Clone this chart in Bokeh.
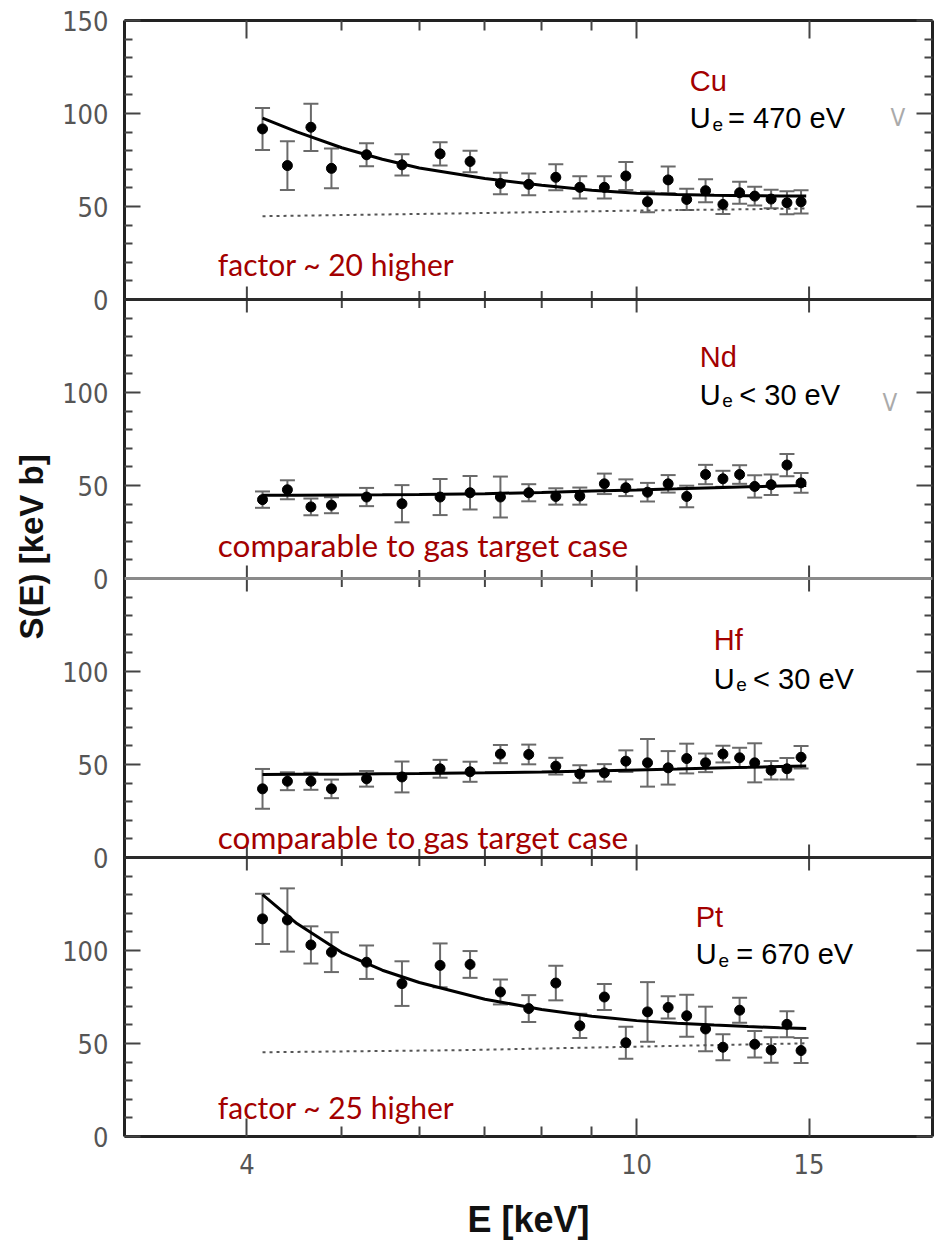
import math
from bokeh.plotting import figure
from bokeh.models import (Range1d, FixedTicker, LinearAxis, LogAxis, Span, Label, Title,
                          Whisker, TeeHead, ColumnDataSource, PrintfTickFormatter)
from bokeh.embed import file_html
from bokeh.resources import INLINE

# ---------------- data ----------------
panels = ["Cu", "Nd", "Hf", "Pt"]
screening = ["= 470 eV", "< 30 eV", "< 30 eV", "= 670 eV"]
remarks = ["factor ~ 20 higher", "comparable to gas target case",
           "comparable to gas target case", "factor ~ 25 higher"]

energy_keV = [4.15, 4.40, 4.65, 4.88, 5.30, 5.76, 6.30, 6.76, 7.26, 7.76, 8.27, 8.75,
              9.27, 9.75, 10.26, 10.77, 11.25, 11.76, 12.25, 12.74, 13.20, 13.72, 14.24, 14.72]

cu_S = [91.7, 72.0, 92.6, 70.5, 77.8, 72.4, 78.3, 74.2, 62.4, 61.9, 65.7, 60.3,
        60.3, 66.4, 52.5, 64.3, 53.8, 58.5, 51.1, 57.4, 55.6, 54.0, 52.0, 52.5]
cu_err = [11.3, 13.1, 12.7, 10.7, 6.2, 5.7, 6.2, 5.8, 5.8, 5.9, 7.0, 6.0,
          6.0, 7.5, 5.6, 7.2, 5.7, 6.2, 5.1, 5.9, 5.0, 5.0, 6.2, 6.2]

nd_S = [42.4, 47.7, 38.5, 39.4, 43.8, 40.2, 43.8, 46.1, 43.8, 46.1, 44.1, 44.3,
        50.9, 48.8, 46.4, 50.9, 44.1, 55.9, 53.6, 55.9, 49.5, 50.4, 61.0, 51.4]
nd_err = [4.4, 5.1, 4.5, 4.3, 4.9, 10.0, 9.7, 9.0, 11.0, 4.6, 4.4, 4.6,
          5.5, 4.5, 5.0, 4.7, 5.8, 5.2, 4.3, 5.0, 6.0, 5.5, 6.0, 5.3]

hf_S = [36.9, 41.0, 41.0, 36.9, 42.3, 43.3, 47.7, 46.1, 55.6, 55.4, 49.1, 44.9,
        45.5, 51.8, 50.9, 48.2, 53.2, 50.9, 55.6, 53.6, 50.9, 46.9, 47.7, 53.9]
hf_err = [10.7, 4.8, 4.6, 5.0, 4.2, 8.3, 4.8, 5.4, 4.9, 5.3, 4.5, 4.7,
          4.7, 5.8, 12.8, 9.0, 8.0, 5.0, 4.5, 5.4, 10.5, 5.0, 5.8, 6.0]

pt_S = [117.0, 116.4, 103.0, 99.1, 93.7, 82.2, 92.0, 92.5, 77.7, 68.8, 82.5, 59.5,
        75.0, 50.4, 67.0, 69.4, 64.9, 57.8, 48.0, 67.9, 49.6, 46.5, 60.3, 46.2]
pt_err = [13.5, 17.0, 10.0, 10.7, 9.0, 12.0, 11.8, 7.2, 6.7, 7.2, 9.3, 6.5,
          7.0, 8.6, 16.0, 6.0, 11.3, 12.0, 7.0, 6.7, 7.1, 6.9, 7.0, 6.7]

fit_E = [4.15, 4.5, 5.0, 5.5, 6.0, 7.0, 8.0, 9.0, 10.0, 11.0, 12.0, 13.0, 14.0, 14.9]
cu_fit = [97.5, 90.1, 81.6, 75.4, 70.7, 65.0, 61.4, 58.8, 57.1, 56.4, 56.0, 55.8, 55.7, 55.6]
nd_fit = [44.7, 44.8, 44.9, 45.0, 45.2, 45.6, 46.3, 47.0, 47.6, 48.2, 48.8, 49.3, 49.7, 50.0]
hf_fit = [44.6, 44.7, 44.8, 45.0, 45.1, 45.5, 46.0, 46.5, 47.1, 47.6, 48.1, 48.5, 48.9, 49.2]
pt_fit = [130.0, 114.5, 98.9, 89.4, 82.8, 73.8, 68.3, 64.7, 62.3, 60.9, 59.9, 59.1, 58.5, 58.1]

bare_E = [4.15, 6.6, 10.0, 14.9]
cu_bare = [44.8, 46.3, 47.8, 48.9]
pt_bare = [45.3, 46.4, 48.3, 50.1]

x_major_ticks = [4, 10, 15]
x_minor_ticks = [5, 6, 7, 8, 9]
y_panel_ticks = [0, 50, 100]
PANEL_MAX = 150

series_S = [cu_S, nd_S, hf_S, pt_S]
series_err = [cu_err, nd_err, hf_err, pt_err]
series_fit = [cu_fit, nd_fit, hf_fit, pt_fit]
series_bare = [cu_bare, None, None, pt_bare]

# ---------------- styles ----------------
RED = "#a30000"
NARROW = "Liberation Sans Narrow, DejaVu Sans Condensed, sans-serif"
ARIAL = "Liberation Sans"
REMARK_FONT = "Lato"
N = len(panels)

p = figure(x_axis_type="log", x_range=Range1d(3.0, 20.05), y_range=Range1d(0, PANEL_MAX * N),
           width=934, height=1252,
           min_border_left=124, min_border_right=2, min_border_top=20, min_border_bottom=116,
           output_backend="svg", toolbar_location=None)
p.grid.visible = False
p.outline_line_color = None
p.background_fill_color = "white"

# y ticks: repeated 0..150 scale for each panel
y_major = []
y_minor = []
y_over = {}
for k in range(N):
    base = PANEL_MAX * k
    for t in y_panel_ticks:
        y_major.append(base + t)
        y_over[base + t] = str(t)
    for t in range(10, PANEL_MAX, 10):
        if t % 50:
            y_minor.append(base + t)
y_major.append(PANEL_MAX * N)
y_over[PANEL_MAX * N] = str(PANEL_MAX)

def style_y(ax, labels):
    ax.ticker = FixedTicker(ticks=y_major, minor_ticks=y_minor)
    ax.axis_line_color = "#222222"
    ax.axis_line_width = 3
    ax.major_tick_in = 16
    ax.major_tick_out = 0
    ax.minor_tick_in = 8
    ax.minor_tick_out = 0
    ax.major_tick_line_color = "#444444"
    ax.minor_tick_line_color = "#444444"
    ax.major_tick_line_width = 2
    ax.minor_tick_line_width = 2
    if labels:
        ax.major_label_overrides = y_over
        ax.major_label_text_font = NARROW
        ax.major_label_text_font_size = "27px"
        ax.major_label_text_color = "#555555"
        ax.major_label_standoff = 16
    else:
        ax.major_label_overrides = {t: "" for t in y_major}
        ax.major_label_text_font_size = "0px"
        ax.major_label_standoff = 0

def style_x(ax, labels):
    ax.ticker = FixedTicker(ticks=x_major_ticks, minor_ticks=x_minor_ticks)
    ax.axis_line_color = "#222222"
    ax.axis_line_width = 3
    ax.major_tick_in = 18
    ax.major_tick_out = 0
    ax.minor_tick_in = 10
    ax.minor_tick_out = 0
    ax.major_tick_line_color = "#444444"
    ax.minor_tick_line_color = "#444444"
    ax.major_tick_line_width = 2
    ax.minor_tick_line_width = 2
    if labels:
        ax.formatter = PrintfTickFormatter(format="%d")
        ax.major_label_text_font = NARROW
        ax.major_label_text_font_size = "27px"
        ax.major_label_text_color = "#555555"
        ax.major_label_standoff = 17
    else:
        ax.major_label_overrides = {t: "" for t in x_major_ticks}
        ax.major_label_text_font_size = "0px"
        ax.major_label_standoff = 0

style_y(p.left[0], True)
style_x(p.below[0], True)
p.below[0].axis_label = "E [keV]"
p.below[0].axis_label_text_font = ARIAL
p.below[0].axis_label_text_font_style = "bold"
p.below[0].axis_label_text_font_size = "36px"
p.below[0].axis_label_text_color = "#111111"
p.below[0].axis_label_standoff = 22

right_ax = LinearAxis()
style_y(right_ax, False)
p.add_layout(right_ax, "right")
top_ax = LogAxis()
style_x(top_ax, False)
p.add_layout(top_ax, "above")

# y-axis title, starting above the lower panels like the original
p.add_layout(Title(text="S(E) [keV b]", align="left", offset=497, standoff=19,
                   text_font=ARIAL, text_font_style="bold", text_font_size="33px",
                   text_color="#111111"), "left")

# panel separators with crossing ticks
for k in range(1, N):
    col = "#8a8a8a" if k == 2 else "#2a2a2a"
    p.add_layout(Span(location=PANEL_MAX * k, dimension="width", line_color=col, line_width=3))
    p.scatter(x=x_major_ticks, y=[PANEL_MAX * k] * len(x_major_ticks), marker="dash",
              angle=math.pi / 2, size=26, line_color="#444444", line_width=2)
    p.scatter(x=x_minor_ticks, y=[PANEL_MAX * k] * len(x_minor_ticks), marker="dash",
              angle=math.pi / 2, size=17, line_color="#444444", line_width=2)

# label placement (style): per panel, in data units within the panel
elem_x = [11.33, 11.60, 11.99, 11.49]
sub_x = [11.95, 12.23, 12.64, 12.12]
rest_x = [12.40, 12.73, 13.15, 12.64]
elem_y = [117.5, 119.1, 116.7, 118.2]
ue_y = [97.5, 98.9, 96.2, 97.9]
remark_y = [19.0, 18.1, 10.8, 16.0]
remark_size = ["30px", "31.5px", "31.5px", "30px"]

for i in range(N):
    off = PANEL_MAX * (N - 1 - i)
    S = [v + off for v in series_S[i]]
    lo = [v + off - e for v, e in zip(series_S[i], series_err[i])]
    hi = [v + off + e for v, e in zip(series_S[i], series_err[i])]
    src = ColumnDataSource(dict(E=energy_keV, S=S, lo=lo, hi=hi))
    if series_bare[i] is not None:
        p.line(bare_E, [v + off for v in series_bare[i]], line_color="#555555",
               line_width=2, line_dash="3 4")
    p.add_layout(Whisker(source=src, base="E", upper="hi", lower="lo", dimension="height",
                         line_color="#6a6a6a", line_width=2,
                         upper_head=TeeHead(size=15, line_color="#6a6a6a", line_width=2),
                         lower_head=TeeHead(size=15, line_color="#6a6a6a", line_width=2)))
    p.line(fit_E, [v + off for v in series_fit[i]], line_color="black", line_width=3)
    p.scatter("E", "S", source=src, marker="circle", size=10, fill_color="black",
              line_color="black")

    p.add_layout(Label(x=elem_x[i], y=elem_y[i] + off, text=panels[i], text_font=ARIAL,
                       text_font_size="29px", text_color=RED, text_baseline="alphabetic"))
    p.add_layout(Label(x=elem_x[i], y=ue_y[i] + off, text="U", text_font=ARIAL,
                       text_font_size="29px", text_color="black", text_baseline="alphabetic"))
    p.add_layout(Label(x=sub_x[i], y=ue_y[i] - 3.3 + off, text="e", text_font=ARIAL,
                       text_font_size="19px", text_color="black", text_baseline="alphabetic"))
    p.add_layout(Label(x=rest_x[i], y=ue_y[i] + off, text=screening[i], text_font=ARIAL,
                       text_font_size="29px", text_color="black", text_baseline="alphabetic"))
    p.add_layout(Label(x=3.736, y=remark_y[i] + off, text=remarks[i], text_font=REMARK_FONT,
                       text_font_size=remark_size[i], text_color=RED, text_baseline="alphabetic"))

# faint cropped-off glyphs at the right edge of the original figure
p.add_layout(Label(x=18.17, y=97.5 + 450, text="V", text_font=NARROW, text_font_size="24px",
                   text_color="#aaaaaa", text_baseline="alphabetic"))
p.add_layout(Label(x=17.83, y=94.1 + 300, text="V", text_font=NARROW, text_font_size="24px",
                   text_color="#aaaaaa", text_baseline="alphabetic"))

open("out.html", "w").write(file_html(p, INLINE))
